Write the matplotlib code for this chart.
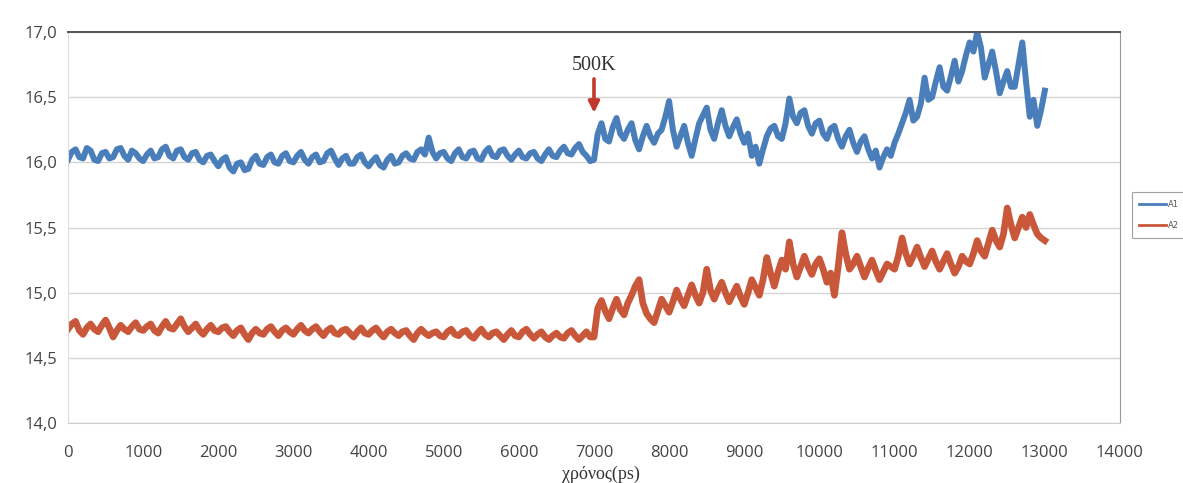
import numpy as np
import matplotlib
matplotlib.use('Agg')
from matplotlib import pyplot as plt

# time axis, ps (one reading every 50 ps, 0..13000)
t = np.arange(0, 13001, 50)

a1 = [16.02, 16.08, 16.10, 16.04, 16.03, 16.11, 16.09, 16.02, 16.01, 16.07, 16.08, 16.03, 16.04, 16.10, 16.11, 16.05, 16.02, 16.09, 16.07, 16.03,
      16.01, 16.06, 16.09, 16.03, 16.04, 16.10, 16.12, 16.05, 16.03, 16.09, 16.10, 16.04, 16.02, 16.07, 16.08, 16.02, 16.00, 16.05, 16.06, 16.01,
      15.97, 16.02, 16.04, 15.96, 15.93, 15.99, 16.00, 15.94, 15.95, 16.02, 16.05, 15.99, 15.98, 16.04, 16.06, 16.00, 15.99, 16.05, 16.07, 16.01,
      16.00, 16.05, 16.08, 16.02, 15.99, 16.04, 16.06, 16.00, 16.01, 16.07, 16.09, 16.03, 15.98, 16.03, 16.05, 15.99, 15.99, 16.04, 16.06, 16.00,
      15.97, 16.01, 16.04, 15.98, 15.96, 16.02, 16.05, 15.99, 16.00, 16.05, 16.07, 16.03, 16.02, 16.08, 16.10, 16.06, 16.19, 16.08, 16.03, 16.07,
      16.08, 16.03, 16.01, 16.07, 16.10, 16.04, 16.03, 16.08, 16.09, 16.03, 16.02, 16.08, 16.11, 16.05, 16.04, 16.09, 16.10, 16.05, 16.02, 16.06,
      16.09, 16.04, 16.03, 16.07, 16.08, 16.03, 16.01, 16.06, 16.10, 16.05, 16.04, 16.09, 16.12, 16.07, 16.06, 16.11, 16.14, 16.08, 16.05, 16.01,
      16.02, 16.22, 16.30, 16.18, 16.16, 16.27, 16.34, 16.22, 16.18, 16.25, 16.30, 16.17, 16.10, 16.20, 16.28, 16.20, 16.15, 16.22, 16.25, 16.35,
      16.47, 16.25, 16.12, 16.20, 16.28, 16.15, 16.05, 16.18, 16.30, 16.36, 16.42, 16.25, 16.18, 16.30, 16.40, 16.28, 16.20, 16.27, 16.33, 16.22,
      16.15, 16.22, 16.05, 16.12, 15.99, 16.10, 16.20, 16.26, 16.28, 16.20, 16.18, 16.30, 16.49, 16.35, 16.30, 16.38, 16.40, 16.28, 16.22, 16.30,
      16.32, 16.22, 16.18, 16.26, 16.28, 16.18, 16.12, 16.20, 16.25, 16.15, 16.08, 16.16, 16.20, 16.10, 16.03, 16.09, 15.96, 16.04, 16.10, 16.05,
      16.15, 16.22, 16.30, 16.38, 16.48, 16.32, 16.35, 16.45, 16.65, 16.48, 16.50, 16.62, 16.73, 16.58, 16.55, 16.66, 16.78, 16.62, 16.70, 16.82,
      16.92, 16.85, 17.00, 16.88, 16.65, 16.75, 16.85, 16.70, 16.53, 16.62, 16.70, 16.58, 16.58, 16.75, 16.92, 16.62, 16.35, 16.48, 16.28, 16.40,
      16.55]

a2 = [14.72, 14.76, 14.78, 14.71, 14.68, 14.73, 14.76, 14.72, 14.70, 14.75, 14.79, 14.73, 14.66, 14.71, 14.75, 14.72, 14.70, 14.74, 14.77, 14.72,
      14.71, 14.74, 14.76, 14.71, 14.69, 14.74, 14.78, 14.73, 14.72, 14.76, 14.80, 14.74, 14.70, 14.73, 14.76, 14.71, 14.68, 14.72, 14.75, 14.71,
      14.70, 14.73, 14.74, 14.70, 14.67, 14.71, 14.73, 14.68, 14.64, 14.69, 14.72, 14.69, 14.68, 14.72, 14.74, 14.70, 14.67, 14.71, 14.73, 14.70,
      14.68, 14.72, 14.75, 14.71, 14.69, 14.72, 14.74, 14.70, 14.67, 14.71, 14.73, 14.69, 14.68, 14.71, 14.72, 14.69, 14.66, 14.70, 14.73, 14.69,
      14.68, 14.71, 14.73, 14.69, 14.66, 14.70, 14.72, 14.69, 14.67, 14.70, 14.71, 14.67, 14.64, 14.69, 14.72, 14.69, 14.67, 14.69, 14.70, 14.67,
      14.66, 14.70, 14.72, 14.68, 14.67, 14.70, 14.71, 14.67, 14.65, 14.69, 14.72, 14.68, 14.66, 14.69, 14.70, 14.67, 14.64, 14.68, 14.71, 14.67,
      14.66, 14.70, 14.72, 14.68, 14.65, 14.68, 14.70, 14.66, 14.64, 14.67, 14.69, 14.66, 14.65, 14.69, 14.71, 14.67, 14.64, 14.67, 14.70, 14.66,
      14.66, 14.88, 14.94, 14.86, 14.80, 14.88, 14.95, 14.87, 14.83, 14.92, 14.98, 15.05, 15.10, 14.92, 14.84, 14.80, 14.77, 14.86, 14.95, 14.90,
      14.85, 14.93, 15.02, 14.95, 14.90, 14.98, 15.06, 14.98, 14.92, 15.00, 15.18, 15.02, 14.95, 15.02, 15.08, 15.00, 14.93, 14.99, 15.05, 14.97,
      14.91, 15.00, 15.10, 15.04, 14.98, 15.10, 15.27, 15.15, 15.05, 15.16, 15.25, 15.18, 15.39, 15.22, 15.12, 15.20, 15.28, 15.20, 15.14, 15.22,
      15.26, 15.18, 15.08, 15.15, 14.98, 15.20, 15.46, 15.30, 15.18, 15.22, 15.28, 15.20, 15.12, 15.19, 15.25, 15.17, 15.10, 15.16, 15.22, 15.20,
      15.18, 15.28, 15.42, 15.30, 15.22, 15.28, 15.35, 15.27, 15.20, 15.26, 15.32, 15.24, 15.18, 15.24, 15.30, 15.22, 15.15, 15.20, 15.28, 15.24,
      15.22, 15.30, 15.40, 15.32, 15.28, 15.38, 15.48, 15.40, 15.35, 15.45, 15.65, 15.52, 15.42, 15.50, 15.58, 15.50, 15.60, 15.52, 15.45, 15.42,
      15.40]

xticks = np.arange(0, 14001, 1000)
yticks = np.arange(14.0, 17.01, 0.5)

fig = plt.figure(figsize=(11.83, 4.83), dpi=100)
ax = fig.add_axes([0.0575, 0.1242, 0.8892, 0.8095])

ax.plot(t, a1, color='#4a7ebb', lw=4.3, solid_joinstyle='round', label='A1')
ax.plot(t, a2, color='#c9583b', lw=4.8, solid_joinstyle='round', label='A2')

ax.set_xlim(0, 14000)
ax.set_ylim(14.0, 17.0)
ax.set_xticks(xticks)
ax.set_yticks(yticks)
ax.set_yticklabels([('%.1f' % v).replace('.', ',') for v in yticks])
ax.tick_params(length=0, labelsize=12, labelcolor='#444444', pad=8,
               labelfontfamily='Open Sans')
ax.tick_params(axis='x', pad=16)
ax.grid(axis='y', color='#d4d4d4', lw=1)
ax.set_axisbelow(True)
ax.spines['top'].set_color('#555555')
ax.spines['top'].set_linewidth(1.4)
ax.spines['right'].set_color('#999999')
ax.spines['right'].set_linestyle((0, (2, 1)))
ax.spines['left'].set_color('#dddddd')
ax.spines['bottom'].set_color('#cccccc')

ax.set_xlabel('χρόνος(ps)', fontsize=13, family='Liberation Serif', color='#333333')
ax.xaxis.set_label_coords((601 - 68) / 1052, -0.108)

# label and arrow for the 500K switch
ax.text(7000, 16.74, '500K', ha='center', va='center', fontsize=14.5,
        family='Liberation Serif', color='#333333')
ax.annotate('', xy=(7000, 16.38), xytext=(7000, 16.64),
            arrowprops=dict(arrowstyle='-|>', color='#c0392b', lw=2.6, mutation_scale=16,
                            shrinkA=0, shrinkB=0))

leg = fig.legend(loc='center left', bbox_to_anchor=(0.953, 0.555), fontsize=6,
                 frameon=True, handlelength=3.2, borderpad=0.9, labelspacing=1.5,
                 handletextpad=0.3)
leg.get_frame().set_edgecolor('#888888')
leg.get_frame().set_linewidth(0.8)
leg.get_frame().set_boxstyle('square', pad=0)
for line in leg.get_lines():
    line.set_linewidth(2)
for txt in leg.get_texts():
    txt.set_color('#555555')

fig.savefig('out.png', dpi=100, facecolor='white')
